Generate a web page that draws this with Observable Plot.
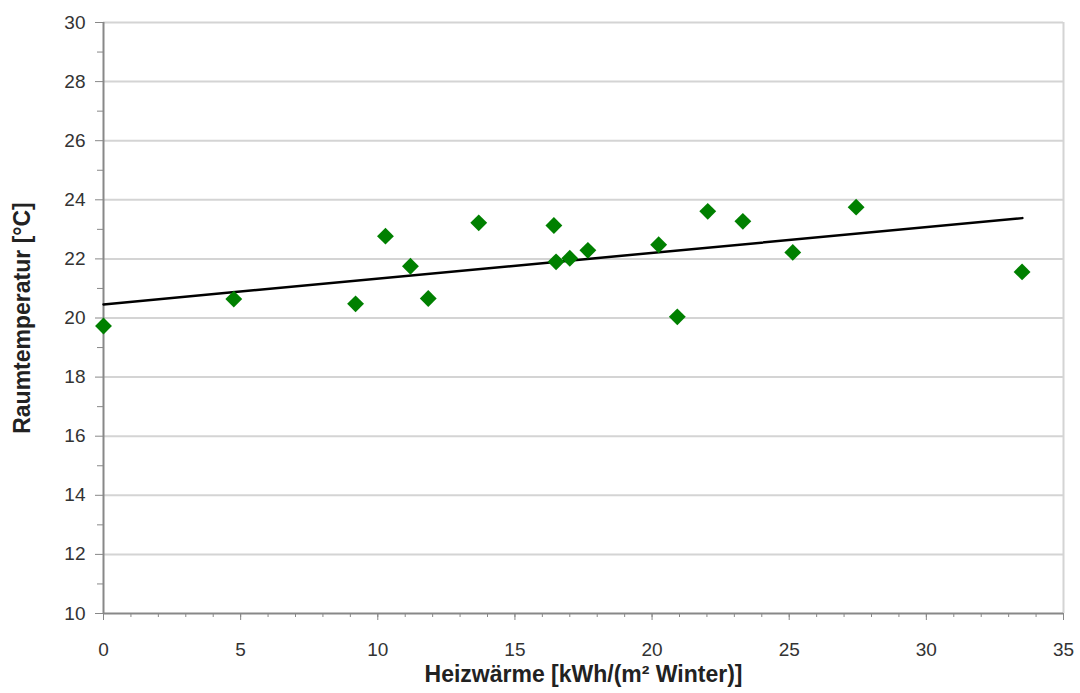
<!DOCTYPE html>
<html>
<head>
<meta charset="utf-8">
<script src="https://cdn.jsdelivr.net/npm/d3@7"></script>
<script src="https://cdn.jsdelivr.net/npm/@observablehq/plot@0.6"></script>
<style>
  html, body { margin: 0; padding: 0; background: #fff; }
  #chart svg { display: block; }
</style>
</head>
<body>
<div id="chart"></div>
<script>
// Data
const heatX = [0, 4.75, 9.19, 10.28, 11.19, 11.84, 13.68, 16.42, 16.50, 17.00, 17.66, 20.24, 20.92, 22.03, 23.31, 25.13, 27.44, 33.49];
const roomTemp = [19.73, 20.64, 20.48, 22.77, 21.75, 20.66, 23.22, 23.13, 21.90, 22.02, 22.29, 22.48, 20.04, 23.61, 23.27, 22.22, 23.75, 21.56];
const trendX = [0, 33.5];
const trendY = [20.46, 23.38];
const xTicks = [0, 5, 10, 15, 20, 25, 30, 35];
const xMinorTicks = d3.range(0, 36, 1);
const yTicks = [10, 12, 14, 16, 18, 20, 22, 24, 26, 28, 30];
const yMinorTicks = [11, 13, 15, 17, 19, 21, 23, 25, 27, 29];
const xLabel = "Heizwärme [kWh/(m² Winter)]";
const yLabel = "Raumtemperatur [°C]";

const points = heatX.map((x, i) => ({x, y: roomTemp[i]}));
const trend = trendX.map((x, i) => ({x, y: trendY[i]}));

const chart = Plot.plot({
  width: 1080,
  height: 693,
  marginLeft: 103,
  marginRight: 17,
  marginTop: 22,
  marginBottom: 80,
  style: {fontFamily: "'Liberation Sans', Arial, sans-serif", fontSize: "19px", background: "#fff"},
  x: {domain: [0, 35]},
  y: {domain: [10, 30]},
  marks: [
    Plot.gridY(yTicks.filter(d => d > 10), {stroke: "#d4d4d4", strokeOpacity: 1, strokeWidth: 2}),
    Plot.ruleX([35], {stroke: "#d4d4d4", strokeWidth: 2}),
    Plot.axisX(xMinorTicks, {tickSize: 4, tickFormat: () => "", label: null, stroke: "#888"}),
    Plot.axisX(xTicks, {tickSize: 7, tickPadding: 22, label: null, stroke: "#888", fill: "#333"}),
    Plot.axisY(yMinorTicks, {tickSize: 6, tickFormat: () => "", label: null, stroke: "#888"}),
    Plot.axisY(yTicks, {tickSize: 8, tickPadding: 10, label: null, stroke: "#888", fill: "#333"}),
    Plot.ruleX([0], {stroke: "#888", strokeWidth: 2}),
    Plot.ruleY([10], {stroke: "#888", strokeWidth: 2}),
    Plot.line(trend, {x: "x", y: "y", stroke: "#000", strokeWidth: 2.5}),
    Plot.dot(points, {x: "x", y: "y", symbol: "diamond2", r: 7.6, fill: "#008000", stroke: "none"}),
    Plot.text([xLabel], {frameAnchor: "bottom", textAnchor: "middle", lineAnchor: "middle", dy: 61, fontSize: 23, fontWeight: "bold", fill: "#222"}),
    Plot.text([yLabel], {frameAnchor: "left", textAnchor: "middle", lineAnchor: "middle", dx: -81, rotate: -90, fontSize: 23, fontWeight: "bold", fill: "#222"})
  ]
});
document.getElementById("chart").appendChild(chart);
</script>
</body>
</html>
